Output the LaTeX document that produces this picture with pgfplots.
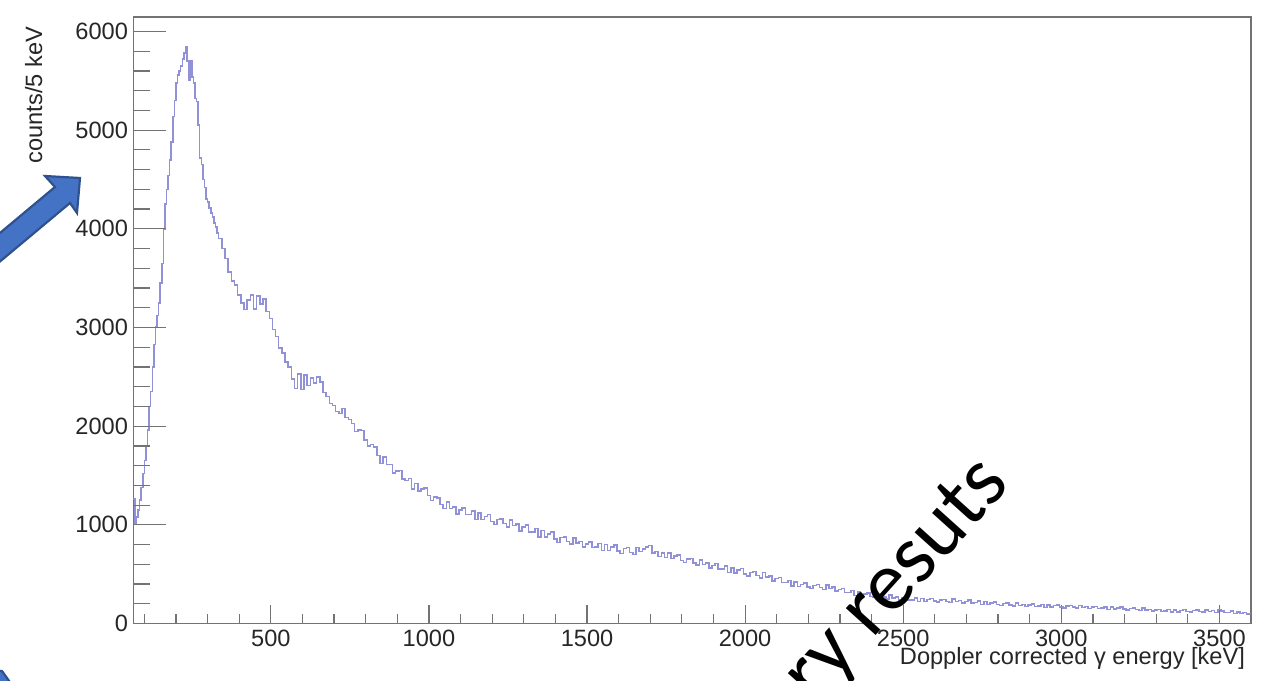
\documentclass[border=0pt]{standalone}
\usepackage{pgfplots}
\pgfplotsset{compat=1.18}
\usepackage{fontspec}
\setmainfont{Liberation Sans}
\newfontfamily\calibri{Carlito}
\definecolor{histc}{RGB}{145,145,215}
\definecolor{axc}{RGB}{115,115,115}
\definecolor{arrowfill}{RGB}{68,114,196}
\definecolor{arrowline}{RGB}{47,82,143}
\newcommand{\tickfont}{\fontsize{11.8}{13}\selectfont}

\pgfplotstableread{
E C
65 1260
70 1020
75 1080
80 1150
85 1250
90 1380
95 1520
100 1650
105 1800
110 1960
115 2200
120 2350
125 2600
130 2830
135 3010
140 3120
145 3250
150 3450
155 3650
160 4000
165 4250
170 4400
175 4540
180 4700
185 4880
190 5140
195 5300
200 5480
205 5560
210 5600
215 5650
220 5720
225 5780
230 5850
235 5700
240 5510
245 5700
250 5540
255 5480
260 5320
265 5290
270 5050
275 4720
280 4650
285 4500
290 4420
295 4300
300 4270
305 4210
310 4160
315 4120
320 4060
325 4020
330 3960
335 3900
345 3800
355 3700
365 3560
375 3470
385 3430
395 3330
405 3250
415 3180
425 3280
435 3330
445 3190
455 3320
465 3240
475 3290
485 3160
495 3090
505 2980
515 2910
525 2790
535 2740
545 2650
555 2600
565 2480
575 2380
585 2530
595 2370
605 2520
615 2410
625 2490
635 2440
645 2500
655 2450
665 2340
675 2300
685 2230
695 2210
705 2150
715 2130
725 2180
735 2090
745 2070
755 2025
765 1945
775 1960
785 1955
795 1860
805 1800
815 1815
825 1790
835 1705
845 1620
855 1685
865 1610
875 1610
885 1525
895 1545
905 1550
915 1465
925 1450
935 1470
945 1365
955 1420
965 1345
975 1365
985 1375
995 1295
1005 1245
1015 1280
1025 1270
1035 1205
1045 1165
1055 1230
1065 1165
1075 1180
1085 1110
1095 1148
1105 1170
1115 1103
1125 1105
1135 1142
1145 1054
1155 1121
1165 1056
1175 1086
1185 1106
1195 1036
1205 1001
1215 1053
1225 1060
1235 1012
1245 979
1255 1051
1265 993
1275 1009
1285 940
1295 976
1305 997
1315 928
1325 929
1335 965
1345 875
1355 941
1365 876
1375 906
1385 926
1395 856
1405 822
1415 870
1425 878
1435 831
1445 804
1455 867
1465 815
1475 833
1485 773
1495 808
1505 828
1515 768
1525 773
1535 813
1545 738
1555 800
1565 740
1575 775
1585 795
1595 735
1605 710
1615 759
1625 768
1635 722
1645 698
1655 770
1665 728
1675 757
1685 775
1695 792
1705 715
1715 732
1725 680
1735 715
1745 669
1755 713
1765 660
1775 682
1785 694
1795 641
1805 618
1815 652
1825 657
1835 614
1845 591
1855 645
1865 599
1875 612
1885 561
1895 589
1905 606
1915 551
1925 553
1935 583
1945 517
1955 565
1965 514
1975 540
1985 556
1995 504
2005 483
2015 518
2025 525
2035 485
2045 462
2055 515
2065 469
2075 481
2085 430
2095 454
2105 464
2115 416
2125 416
2135 438
2145 380
2155 420
2165 374
2175 394
2185 409
2195 370
2205 354
2215 386
2225 393
2235 363
2245 346
2255 390
2265 355
2275 368
2285 328
2295 346
2305 357
2315 314
2325 316
2335 335
2345 285
2355 319
2365 280
2375 298
2385 310
2395 275
2405 262
2415 286
2425 291
2435 267
2445 250
2455 287
2465 259
2475 268
2485 237
2495 256
2505 267
2515 237
2525 240
2535 259
2545 223
2555 253
2565 225
2575 243
2585 255
2595 226
2605 216
2615 240
2625 245
2635 225
2645 214
2655 247
2665 224
2675 233
2685 206
2695 224
2705 236
2715 208
2725 211
2735 227
2745 192
2755 221
2765 195
2775 209
2785 219
2795 193
2805 182
2815 203
2825 207
2835 188
2845 176
2855 206
2865 185
2875 194
2885 170
2895 186
2905 196
2915 172
2925 175
2935 192
2945 161
2955 188
2965 165
2975 180
2985 190
2995 167
3005 157
3015 177
3025 182
3035 165
3045 155
3055 183
3065 164
3075 172
3085 150
3095 165
3105 173
3115 152
3125 155
3135 169
3145 142
3155 166
3165 145
3175 159
3185 166
3195 146
3205 136
3215 153
3225 158
3235 141
3245 131
3255 156
3265 138
3275 144
3285 125
3295 137
3305 144
3315 124
3325 126
3335 140
3345 116
3355 138
3365 119
3375 132
3385 141
3395 122
3405 116
3415 133
3425 137
3435 123
3445 115
3455 139
3465 124
3475 131
3485 113
3495 142
3505 126
3515 112
3525 114
3535 126
3545 101
3555 118
3565 99
3575 110
3585 98
3595 103
3600 103
}\histdata

\begin{document}
\begin{tikzpicture}[x=1pt,y=1pt]
\path[use as bounding box] (0,0) rectangle (630.5,340);
\clip (0,0) rectangle (630.5,340);
\pgfplotsset{
  common/.style={
    at={(66.65pt,28.25pt)}, anchor=south west,
    scale only axis, width=558.85pt, height=303.25pt,
    xmin=65, xmax=3600, ymin=0, ymax=6147,
    tick align=inside, tick pos=left,
    every tick/.style={axc, line width=0.6pt},
    scaled ticks=false,
    /pgf/number format/1000 sep={},
    /pgf/number format/assume math mode=true,
    ticklabel style={font=\tickfont, text=black!85},
  }
}
\begin{axis}[common,
  axis line style={axc, line width=0.7pt},
  xtick={0,500,...,3500}, minor x tick num=4,
  ytick=\empty,
  major tick length=9.5pt, minor tick length=5pt,
  xticklabel style={inner sep=3pt},
]
\addplot[const plot, histc, line width=0.75pt] table[x=E, y=C] {\histdata};
\end{axis}
\begin{axis}[common,
  axis line style={draw=none},
  xtick=\empty,
  ytick={0,1000,...,6000}, minor y tick num=4,
  major tick length=16.5pt, minor tick length=8.5pt,
  yticklabel style={inner sep=2.5pt},
]
\end{axis}
\node[rotate=90, anchor=base east, font=\tickfont, text=black!85] at (21,330) {counts/5 keV};
\node[anchor=base east, font=\tickfont, text=black!85] at (626,8) {Doppler corrected γ energy [keV]};
\begin{scope}[x=0.5pt, y=-0.5pt, shift={(0pt,340pt)}]
\filldraw[fill=arrowfill, draw=arrowline, line width=1.1pt, line join=miter]
  (80,178) -- (45,176) -- (55,187) -- (-30,258) -- (-15,274) -- (70,203) -- (77,213) -- cycle;
\filldraw[fill=arrowfill, draw=arrowline, line width=1.1pt, line join=round]
  (-10,670) -- (2,671) -- (12,685) -- (-10,685) -- cycle;
\node[rotate=48, anchor=base east, font=\calibri\fontsize{42}{50}\selectfont, text=black, inner sep=0pt] at (1012,485) {Preliminary resuts};
\end{scope}
\end{tikzpicture}
\end{document}
